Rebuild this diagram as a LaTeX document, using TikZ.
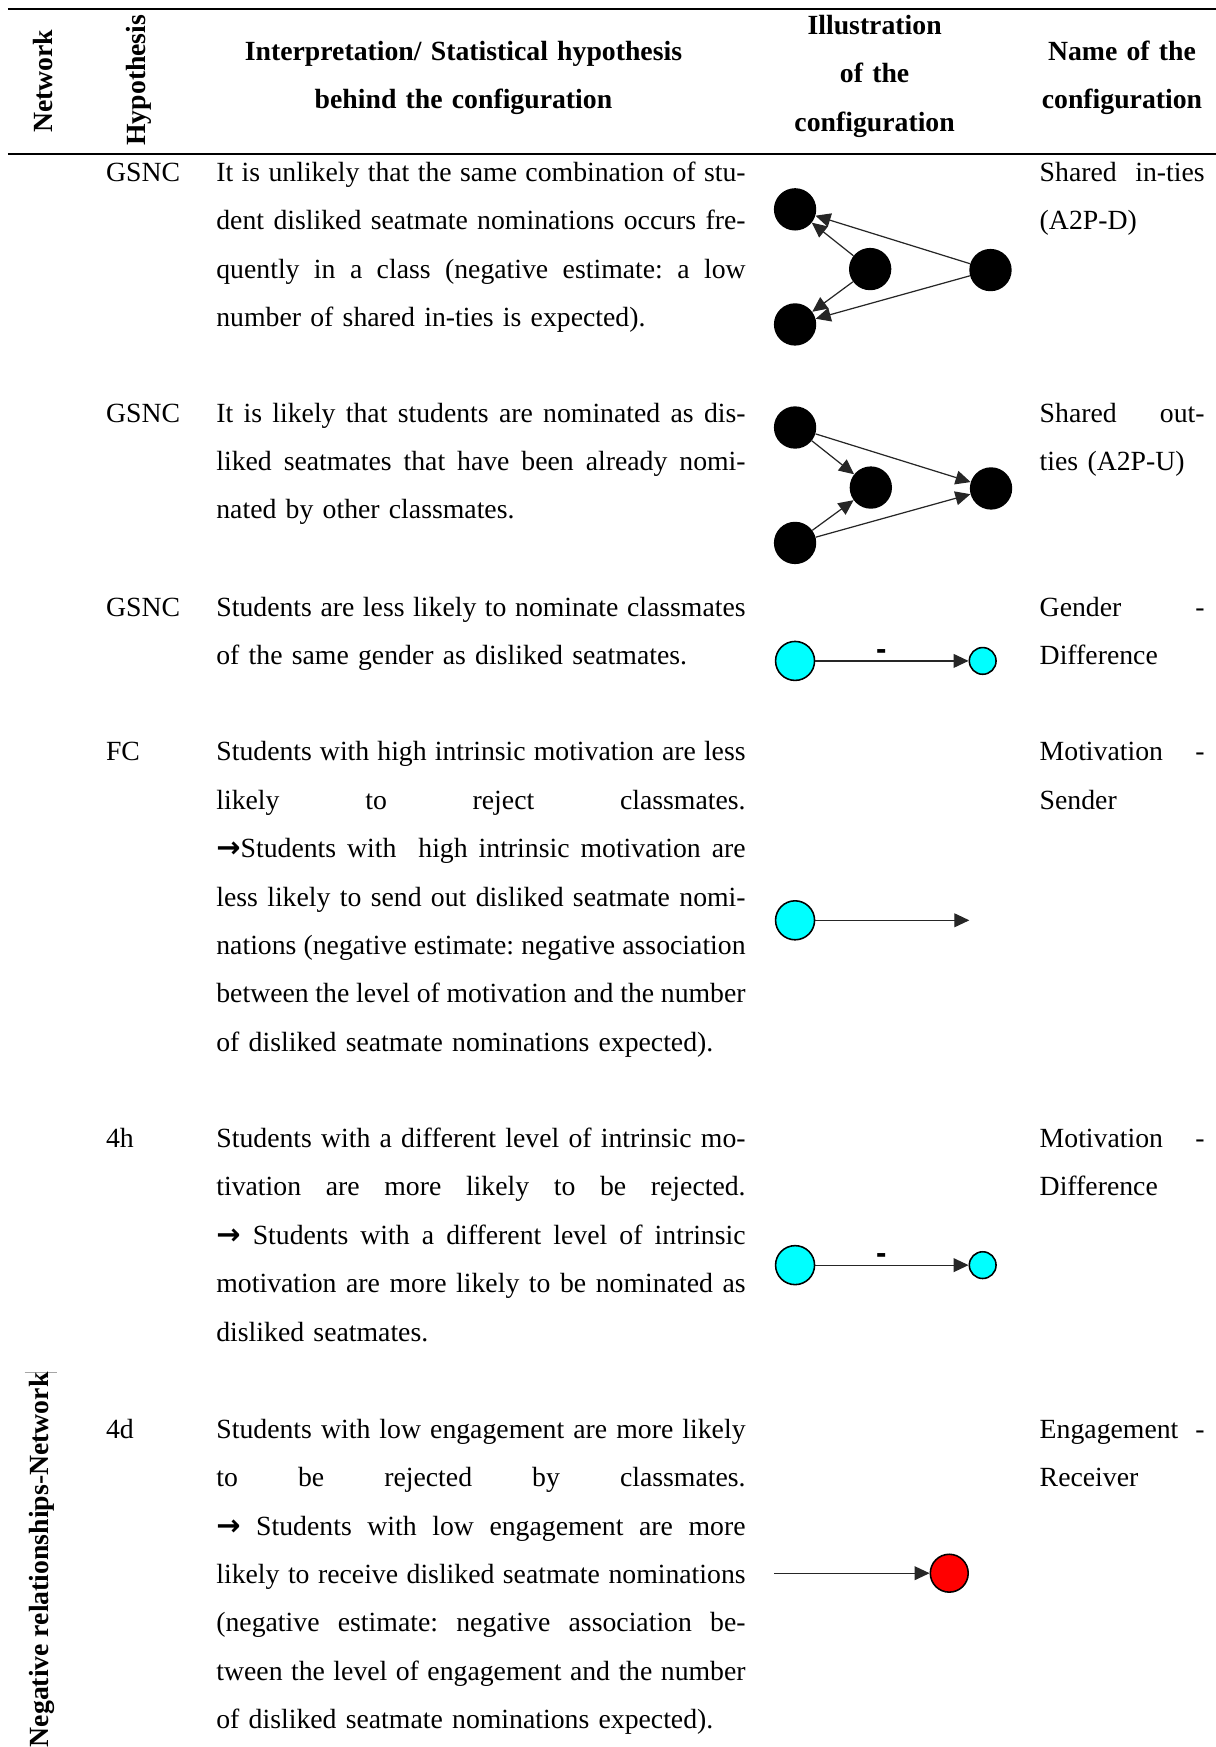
\documentclass[tikz,border=0pt]{standalone}
\usepackage{fontspec}
\setmainfont{Liberation Serif}
\newfontfamily\labelsans{Liberation Sans}
\newfontfamily\arrowfont{DejaVu Sans}
\usetikzlibrary{arrows.meta}

% body and header type
\newcommand{\bodyfont}{\fontsize{24.9pt}{43.4pt}\selectfont\frenchspacing}
\newcommand{\headfont}{\fontsize{24.9pt}{43.4pt}\selectfont\bfseries\frenchspacing}
% justified lines of the two text columns (word spaces share the slack)
\newcommand{\il}[1]{\leavevmode\hbox to 475pt{\spaceskip=0.25em plus 1fil minus 0.06em #1}}
\newcommand{\nl}[1]{\leavevmode\hbox to 148pt{\spaceskip=0.25em plus 1fil minus 0.06em #1}}
\newcommand{\ra}{{\arrowfont\bfseries\fontsize{26pt}{26pt}\selectfont →}}

\tikzset{
  x=1pt, y=-1pt,
  para/.style={font=\bodyfont, inner sep=0pt, anchor=base west, text width=475pt, align=left},
  namecol/.style={font=\bodyfont, inner sep=0pt, anchor=base west, text width=148pt, align=left},
  hyp/.style={font=\bodyfont, inner sep=0pt, anchor=base west},
  head/.style={font=\headfont, inner sep=0pt, anchor=base, align=center},
  vhead/.style={font=\headfont, inner sep=0pt, rotate=90},
  rule/.style={line width=2pt},
  blackdot/.style={circle, fill=black, minimum size=38pt, inner sep=0pt},
  cyanbig/.style={circle, draw=black, line width=1.4pt, fill={rgb,255:red,0;green,255;blue,255}, minimum size=35pt, inner sep=0pt},
  cyansmall/.style={circle, draw=black, line width=1.4pt, fill={rgb,255:red,0;green,255;blue,255}, minimum size=24pt, inner sep=0pt},
  reddot/.style={circle, draw=black, line width=1.4pt, fill={rgb,255:red,255;green,0;blue,0}, minimum size=34pt, inner sep=0pt},
  tie/.style={draw=black!85, line width=1.1pt, -{Triangle[length=13.5pt,width=12.5pt]}},
  signlabel/.style={font=\labelsans\fontsize{28pt}{28pt}\selectfont\bfseries, inner sep=0pt},
}

\begin{document}
\begin{tikzpicture}
\useasboundingbox (0,0) rectangle (1091,1568);

% table rules
\draw[rule] (7,8) -- (1091,8);
\draw[rule] (7,138) -- (1091,138);
\draw[black!35, line width=0.8pt] (22,1232) -- (51,1232);

% header
\node[vhead] (hnet) at (39,73) {Network};
\node[vhead] (hhyp) at (125,72) {Hypothesis};
\node[head, text width=500pt] (hinterp) at (416,54) {Interpretation/ Statistical hypothesis\\behind the configuration};
\node[head, text width=220pt] (hill) at (785,31) {Illustration\\of the\\configuration};
\node[head, text width=180pt] (hname) at (1007,54) {Name of the\\configuration};
\node[vhead] (netname) at (38,1400) {Negative relationships-Network};

% row 1: shared in-ties
\node[hyp] (h1) at (95,163) {GSNC};
\node[para] (t1) at (194,163) {\il{It is unlikely that the same combination of stu-}\\
\il{dent disliked seatmate nominations occurs fre-}\\
\il{quently in a class (negative estimate: a low}\\
number of shared in-ties is expected).};
\node[namecol] (n1) at (933,163) {\nl{Shared in-ties}\\(A2P-D)};
\node[blackdot] (a1) at (713.6,187.9) {};
\node[blackdot] (a2) at (781,241.5) {};
\node[blackdot] (a3) at (889,242.4) {};
\node[blackdot] (a4) at (713.6,291.2) {};
\draw[tie] (a2) -- (a1);
\draw[tie] (a3) -- (a1);
\draw[tie] (a2) -- (a4);
\draw[tie] (a3) -- (a4);

% row 2: shared out-ties
\node[hyp] (h2) at (95,379) {GSNC};
\node[para] (t2) at (194,379) {\il{It is likely that students are nominated as dis-}\\
\il{liked seatmates that have been already nomi-}\\
nated by other classmates.};
\node[namecol] (n2) at (933,379) {\nl{Shared out-}\\ties (A2P-U)};
\node[blackdot] (b1) at (713.6,383.7) {};
\node[blackdot] (b2) at (781.6,437.6) {};
\node[blackdot] (b3) at (889.5,438.4) {};
\node[blackdot] (b4) at (713.6,487.3) {};
\draw[tie] (b1) -- (b2);
\draw[tie] (b1) -- (b3);
\draw[tie] (b4) -- (b2);
\draw[tie] (b4) -- (b3);

% row 3: gender difference
\node[hyp] (h3) at (95,553) {GSNC};
\node[para] (t3) at (194,553) {\il{Students are less likely to nominate classmates}\\
of the same gender as disliked seatmates.};
\node[namecol] (n3) at (933,553) {\nl{Gender -}\\Difference};
\node[cyanbig] (c1) at (713.6,593.2) {};
\node[cyansmall] (c2) at (882,593.2) {};
\draw[tie] (c1) -- node[signlabel, pos=0.43, above=1pt] (s1) {-} (c2);

% row 4: motivation sender
\node[hyp] (h4) at (95,683) {FC};
\node[para] (t4) at (194,683) {\il{Students with high intrinsic motivation are less}\\
\il{likely to reject classmates.}\\
\il{\ra Students with\ \ high intrinsic motivation are}\\
\il{less likely to send out disliked seatmate nomi-}\\
\il{nations (negative estimate: negative association}\\
\il{between the level of motivation and the number}\\
of disliked seatmate nominations expected).};
\node[namecol] (n4) at (933,683) {\nl{Motivation -}\\Sender};
\node[cyanbig] (d1) at (713.6,826) {};
\coordinate (d2) at (870,826);
\draw[tie] (d1) -- (d2);

% row 5: motivation difference
\node[hyp] (h5) at (95,1030) {4h};
\node[para] (t5) at (194,1030) {\il{Students with a different level of intrinsic mo-}\\
\il{tivation are more likely to be rejected.}\\
\il{\ra{} Students with a different level of intrinsic}\\
\il{motivation are more likely to be nominated as}\\
disliked seatmates.};
\node[namecol] (n5) at (933,1030) {\nl{Motivation -}\\Difference};
\node[cyanbig] (e1) at (713.6,1135.5) {};
\node[cyansmall] (e2) at (882,1135.5) {};
\draw[tie] (e1) -- node[signlabel, pos=0.43, above=1pt] (s2) {-} (e2);

% row 6: engagement receiver
\node[hyp] (h6) at (95,1291) {4d};
\node[para] (t6) at (194,1291) {\il{Students with low engagement are more likely}\\
\il{to be rejected by classmates.}\\
\il{\ra{} Students with low engagement are more}\\
\il{likely to receive disliked seatmate nominations}\\
\il{(negative estimate: negative association be-}\\
\il{tween the level of engagement and the number}\\
of disliked seatmate nominations expected).};
\node[namecol] (n6) at (933,1291) {\nl{Engagement -}\\Receiver};
\coordinate (f1) at (695,1412);
\node[reddot] (f2) at (852,1412) {};
\draw[tie] (f1) -- (f2);
\end{tikzpicture}
\end{document}
